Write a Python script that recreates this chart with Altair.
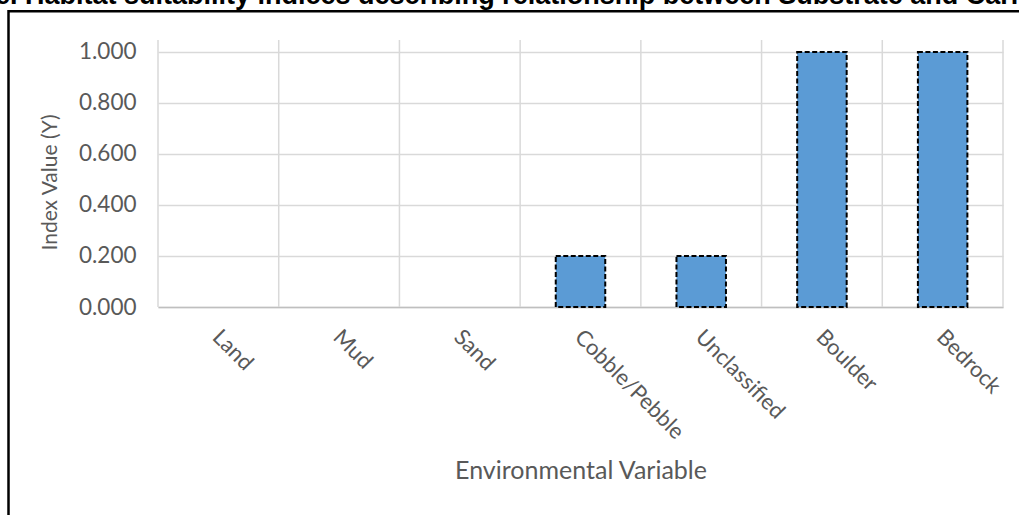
import altair as alt
import pandas as pd

# Substrate classes and their suitability index
categories = ["Land", "Mud", "Sand", "Cobble/Pebble", "Unclassified", "Boulder", "Bedrock"]
index_values = [0.0, 0.0, 0.0, 0.2, 0.2, 1.0, 1.0]
y_ticks = [0.0, 0.2, 0.4, 0.6, 0.8, 1.0]
# category band edges for the vertical gridlines
band_edges = [0, 1, 2, 3, 4, 5, 6, 7]
title_text = "e. Habitat suitability indices describing relationship between Substrate and Caribou"

df = pd.DataFrame({"variable": categories, "value": index_values})
edges_df = pd.DataFrame({"edge": band_edges})

W, H = 845, 267
TEXT = "#595959"
GRID = "#D9D9D9"
FONT = "Lato"

xscale = alt.Scale(domain=categories, paddingInner=0.59, paddingOuter=0.295)
yscale = alt.Scale(domain=[0, 1.047], nice=False, zero=True)

x_axis = alt.Axis(
    title="Environmental Variable",
    labelAngle=45, labelAlign="left", labelBaseline="top",
    labelPadding=19, labelOffset=5, labelOverlap=False,
    labelFont=FONT, labelFontSize=22, labelColor=TEXT,
    ticks=False, domainColor="#BFBFBF", domainWidth=1.5, grid=False,
    titleFont=FONT, titleFontSize=25, titleFontWeight="normal", titleColor=TEXT,
    titleX=W / 2, titleY=171, titleAlign="center", titleBaseline="alphabetic",
)
y_axis = alt.Axis(
    title="Index Value (Y)", values=y_ticks, format=".3f",
    ticks=False, domain=False, grid=True, gridColor=GRID, gridWidth=1.5,
    labelPadding=22, labelFont=FONT, labelFontSize=22.5, labelColor=TEXT,
    titleFont=FONT, titleFontSize=21, titleFontWeight="normal", titleColor=TEXT,
    titleAngle=-90, titleX=-102, titleY=142, titleAlign="center", titleBaseline="alphabetic",
)

vgrid = alt.Chart(edges_df).mark_rule(color=GRID, strokeWidth=1.5).encode(
    x=alt.X("edge:Q", scale=alt.Scale(domain=[0, len(categories)], nice=False, zero=False), axis=None),
    y=alt.value(0), y2=alt.value(H),
)

bars = alt.Chart(df).mark_bar(
    fill="#5B9BD5", stroke="black", strokeWidth=2, strokeDash=[5, 2.5]
).encode(
    x=alt.X("variable:N", scale=xscale, sort=categories, axis=x_axis),
    y=alt.Y("value:Q", scale=yscale, axis=y_axis),
    strokeOpacity=alt.condition("datum.value > 0", alt.value(1), alt.value(0)),
)

one = pd.DataFrame({"t": [title_text]})

# frame around the figure (top and left edges)
frame_top = alt.Chart(one).mark_rule(color="black", strokeWidth=2.5).encode(
    x=alt.value(-149.5), x2=alt.value(880), y=alt.value(-28.7)
)
frame_left = alt.Chart(one).mark_rule(color="black", strokeWidth=2.5).encode(
    x=alt.value(-149.5), y=alt.value(-30), y2=alt.value(490)
)

title = alt.Chart(one).mark_text(
    align="left", baseline="alphabetic", font="Liberation Sans",
    fontWeight="bold", fontSize=27, color="black"
).encode(x=alt.value(-163), y=alt.value(-36.5), text="t:N")

chart = alt.layer(vgrid, bars, frame_top, frame_left, title).resolve_scale(
    x="independent"
).properties(
    width=W, height=H,
    autosize=alt.AutoSizeParams(type="none"),
    padding={"left": 158, "top": 40, "right": 16, "bottom": 208},
    background="white",
).configure_view(stroke=None)

chart.save("out.html", embed_options={"renderer": "svg", "actions": False})
